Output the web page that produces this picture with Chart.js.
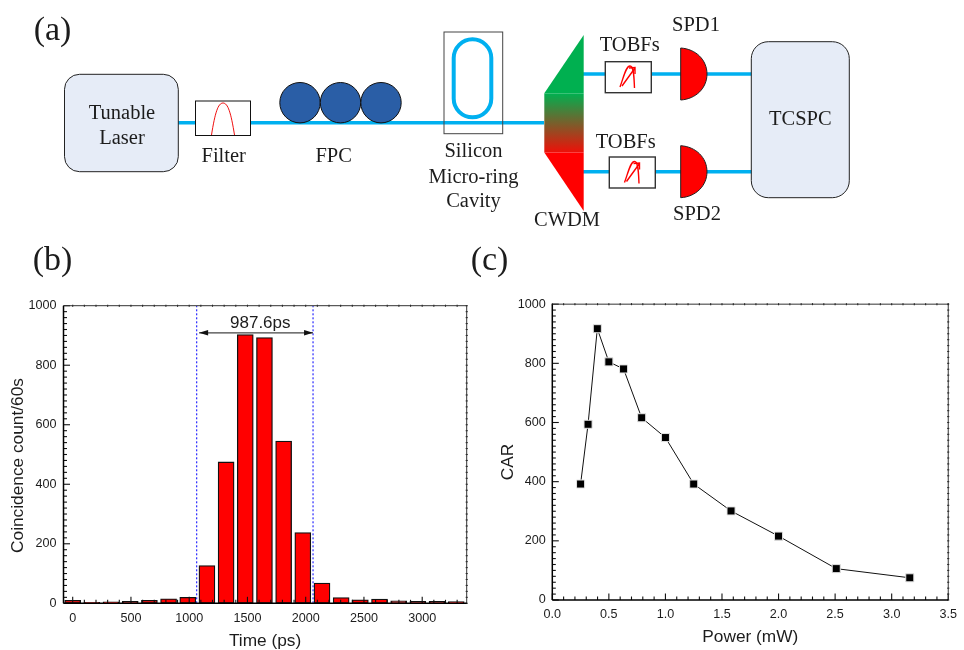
<!DOCTYPE html>
<html>
<head>
<meta charset="utf-8">
<script src="https://cdn.jsdelivr.net/npm/chart.js@4"></script>
<style>
html,body{margin:0;padding:0;background:#fff;width:964px;height:650px;overflow:hidden}
svg,canvas{position:absolute;display:block;filter:blur(0.3px)}
svg text{font-family:"Liberation Serif",serif;fill:#1c1c1c;text-anchor:middle}
</style>
</head>
<body>
<svg id="diagram" width="964" height="290" style="left:0;top:0">
  <defs>
    <linearGradient id="wdm" x1="0" y1="0" x2="0" y2="1">
      <stop offset="0" stop-color="#00b050"/><stop offset="1" stop-color="#ee1008"/>
    </linearGradient>
    <g id="scribble" fill="none" stroke="#ff0000" stroke-width="1.4">
      <path d="M620 87 C624 76 626 66 630 66 C634 66 634 78 634.5 88"/>
      <path d="M622 86 L635 68 M629 68 L635 67.5 L635 74"/>
    </g>
  </defs>
  <g fill="none" stroke="#00b0f0" stroke-width="3.5">
    <path d="M178 122.7H544"/>
    <path d="M582 74H752M582 171.7H752"/>
    <rect x="453.7" y="39.3" width="37.6" height="78" rx="18.8" stroke-width="4"/>
  </g>
  <rect x="64.5" y="74.3" width="113.8" height="97.4" rx="15" fill="#e6ecf7" stroke="#222" stroke-width="1"/>
  <rect x="195.5" y="101" width="55" height="34.5" fill="#fff" stroke="#111" stroke-width="1"/>
  <path d="M211.5 135 C215 113 218 103 223 103 C228 103 231 113 234.5 135" fill="none" stroke="#f01010" stroke-width="1"/>
  <g fill="#2a5ea6" stroke="#111" stroke-width="1">
    <circle cx="300" cy="102.7" r="20.2"/><circle cx="340.5" cy="102.7" r="20.2"/><circle cx="381" cy="102.7" r="20.2"/>
  </g>
  <rect x="444" y="32" width="58.7" height="101.7" fill="none" stroke="#444" stroke-width="1"/>
  <path d="M583.7 35V93.3H544.3Z" fill="#00b050"/>
  <rect x="544.3" y="93.3" width="39.4" height="59.2" fill="url(#wdm)"/>
  <path d="M544.3 152.5H583.7V211Z" fill="#ff0000"/>
  <rect x="605.3" y="61.7" width="46" height="31" fill="#fff" stroke="#333" stroke-width="1.4"/>
  <rect x="609.3" y="157" width="46" height="31" fill="#fff" stroke="#333" stroke-width="1.4"/>
  <use href="#scribble"/>
  <use href="#scribble" transform="translate(4.5 95.5)"/>
  <path d="M680.7 48C696 49 707 60 707 74C707 88 696 99 680.7 100Z" fill="#ff0000" stroke="#222" stroke-width="1"/>
  <path d="M680.7 145.7C696 146.7 707 157.7 707 171.7C707 185.7 696 196.7 680.7 197.7Z" fill="#ff0000" stroke="#222" stroke-width="1"/>
  <rect x="751.3" y="41.7" width="98" height="156" rx="17" fill="#e6ecf7" stroke="#222" stroke-width="1"/>
  <g font-size="20.5">
    <text x="122" y="119">Tunable</text>
    <text x="122" y="144">Laser</text>
    <text x="223.7" y="161.7">Filter</text>
    <text x="333.7" y="161.7">FPC</text>
    <text x="473.5" y="157.3">Silicon</text>
    <text x="473.5" y="182.7">Micro-ring</text>
    <text x="473.5" y="207.3">Cavity</text>
    <text x="567" y="226">CWDM</text>
    <text x="629.7" y="50.7">TOBFs</text>
    <text x="625.7" y="148.3">TOBFs</text>
    <text x="696" y="31">SPD1</text>
    <text x="697" y="220">SPD2</text>
    <text x="800.3" y="125">TCSPC</text>
  </g>
  <text x="52.5" y="40" font-size="34">(a)</text>
  <text x="52.5" y="270" font-size="34">(b)</text>
  <text x="489.5" y="270" font-size="34">(c)</text>
</svg>
<canvas id="timeChart" width="480" height="360" style="left:0;top:290px"></canvas>
<canvas id="carChart" width="474" height="360" style="left:490px;top:290px"></canvas>
<script>
// Panel (b): coincidence histogram
const timePs = [0,164.6,329.2,493.8,658.4,823,987.6,1152.2,1316.8,1481.4,1646,1810.6,1975.2,2139.8,2304.4,2469,2633.6,2798.2,2962.8,3127.4,3292];
const counts = [10,3,5,7,10,15,20,127,475,903,893,545,238,68,19,12,14,8,7,7,6];
const windowEdges = [1064,2063];
const arrowSpan = [1085,2063];
const arrowLevel = 909;
const windowLabel = '987.6ps';
const timeTicks = [0,500,1000,1500,2000,2500,3000];
const timeTickLabels = ['0','500','1000','1500','2000','2500','3000'];
const countTicks = [0,200,400,600,800,1000];
const countTickLabels = ['0','200','400','600','800','1000'];
// Panel (c): CAR against power
const powerMw = [0.25,0.316,0.398,0.5,0.63,0.79,1.0,1.25,1.58,2.0,2.51,3.16];
const carValues = [392,594,917,805,781,616,549,392,301,216,106,75];
const powerTicks = [0,0.5,1,1.5,2,2.5,3,3.5];
const powerTickLabels = ['0.0','0.5','1.0','1.5','2.0','2.5','3.0','3.5'];
const carTicks = [0,200,400,600,800,1000];
const carTickLabels = ['0','200','400','600','800','1000'];

const INK = '#1c1c1c';
const FONT = '"Liberation Sans", Arial, sans-serif';

function frameAndTicks(xStep, xMajor, yStep, yMajor) {
  return {
    id: 'frameAndTicks',
    afterDatasetsDraw(chart) {
      const {ctx, chartArea: a, scales: {x, y}} = chart;
      ctx.save();
      const seg = (x1, y1, x2, y2) => { ctx.beginPath(); ctx.moveTo(x1, y1); ctx.lineTo(x2, y2); ctx.stroke(); };
      ctx.strokeStyle = '#111'; ctx.lineWidth = 1.1;
      for (let v = Math.ceil(x.min / xStep) * xStep; v <= x.max + 1e-9; v += xStep) {
        const p = x.getPixelForValue(v);
        const major = Math.abs(v / xMajor - Math.round(v / xMajor)) < 1e-6;
        seg(p, a.bottom, p, a.bottom - (major ? 6.5 : 3.5));
        seg(p, a.top - 1, p, a.top + 1);
      }
      for (let v = Math.ceil(y.min / yStep) * yStep; v <= y.max + 1e-9; v += yStep) {
        const p = y.getPixelForValue(v);
        const major = Math.abs(v / yMajor - Math.round(v / yMajor)) < 1e-6;
        seg(a.left, p, a.left + (major ? 6.5 : 3.5), p);
        seg(a.right - 1, p, a.right + 1, p);
      }
      ctx.strokeStyle = '#333'; ctx.lineWidth = 1;
      seg(a.left, a.top, a.right, a.top);
      seg(a.right, a.top, a.right, a.bottom);
      ctx.strokeStyle = '#000'; ctx.lineWidth = 1.5;
      seg(a.left, a.top, a.left, a.bottom);
      seg(a.left, a.bottom, a.right, a.bottom);
      ctx.restore();
    }
  };
}
// The axis titles sit below the middle of the axis: move them only while the scale layers are painted.
const shiftTitle = dy => ({
  id: 'shiftTitle',
  beforeDraw(chart) { chart.scales.y.top += dy; chart.scales.y.bottom += dy; },
  beforeDatasetsDraw(chart) { chart.scales.y.top -= dy; chart.scales.y.bottom -= dy; }
});
const spanLabel = {
  id: 'spanLabel',
  afterDatasetsDraw(chart) {
    const {ctx, scales: {x, y}} = chart;
    const x1 = x.getPixelForValue(arrowSpan[0]), x2 = x.getPixelForValue(arrowSpan[1]), py = y.getPixelForValue(arrowLevel);
    ctx.save();
    ctx.strokeStyle = '#444'; ctx.fillStyle = '#111'; ctx.lineWidth = 1.3;
    ctx.beginPath(); ctx.moveTo(x1, py); ctx.lineTo(x2, py); ctx.stroke();
    ctx.beginPath(); ctx.moveTo(x1, py); ctx.lineTo(x1 + 9, py - 2.8); ctx.lineTo(x1 + 9, py + 2.8); ctx.closePath(); ctx.fill();
    ctx.beginPath(); ctx.moveTo(x2, py); ctx.lineTo(x2 - 9, py - 2.8); ctx.lineTo(x2 - 9, py + 2.8); ctx.closePath(); ctx.fill();
    ctx.font = '17px ' + FONT; ctx.fillStyle = INK; ctx.textAlign = 'center'; ctx.textBaseline = 'alphabetic';
    ctx.fillText(windowLabel, x.getPixelForValue(1610), py - 5);
    ctx.restore();
  }
};
const axis = (cfg) => ({
  type: 'linear', min: cfg.min, max: cfg.max, offset: false,
  grid: {display: false, drawTicks: false, tickLength: 0, offset: false}, border: {display: false},
  afterBuildTicks: s => { s.ticks = cfg.ticks.map(v => ({value: v})); },
  afterTickToLabelConversion: s => { s.ticks.forEach((t, i) => { t.label = cfg.labels[i]; }); },
  afterFit: s => { if (cfg.width) s.width = cfg.width; if (cfg.height) s.height = cfg.height; },
  ticks: {autoSkip: false, maxRotation: 0, minRotation: 0, padding: cfg.pad, color: INK, font: {family: FONT, size: 12.6}},
  title: {display: true, text: cfg.title, color: INK, padding: cfg.titlePad, font: {family: FONT, size: 17.3, lineHeight: 1}}
});

new Chart(document.getElementById('timeChart'), {
  type: 'bar',
  data: {datasets: [
    {type: 'bar', data: timePs.map((t, i) => ({x: t, y: counts[i]})), backgroundColor: '#ff0000', borderColor: '#111', borderWidth: 1.3, borderSkipped: false, barThickness: 16},
    {type: 'line', data: windowEdges.slice(0, 1).flatMap(v => [{x: v, y: 0}, {x: v, y: 1000}]), borderColor: '#2a2aff', borderWidth: 1.2, borderDash: [2, 2], pointRadius: 0},
    {type: 'line', data: windowEdges.slice(1).flatMap(v => [{x: v, y: 0}, {x: v, y: 1000}]), borderColor: '#2a2aff', borderWidth: 1.2, borderDash: [2, 2], pointRadius: 0}
  ]},
  options: {
    responsive: false, animation: false, events: [],
    layout: {padding: {top: 15.7, right: 13.3, left: 0, bottom: 0}},
    plugins: {legend: {display: false}, tooltip: {enabled: false}},
    scales: {
      x: axis({min: -79, max: 3382, ticks: timeTicks, labels: timeTickLabels, pad: 8, height: 46.7, title: 'Time (ps)', titlePad: {top: 0, bottom: 0}}),
      y: axis({min: 0, max: 1000, ticks: countTicks, labels: countTickLabels, pad: 7, width: 63.5, title: 'Coincidence count/60s', titlePad: {top: 9.5, bottom: 0}})
    }
  },
  plugins: [shiftTitle(11), frameAndTicks(100, 500, 20, 200), spanLabel]
});

new Chart(document.getElementById('carChart'), {
  type: 'line',
  data: {datasets: [{
    data: powerMw.map((p, i) => ({x: p, y: carValues[i]})),
    borderColor: '#111', borderWidth: 1, tension: 0,
    pointStyle: 'rect', pointRadius: 5.7, pointBackgroundColor: '#000', pointBorderColor: '#e4e4e4', pointBorderWidth: 1
  }]},
  options: {
    responsive: false, animation: false, events: [],
    layout: {padding: {top: 14, right: 10.7, left: 0, bottom: 0}},
    plugins: {legend: {display: false}, tooltip: {enabled: false}},
    scales: {
      x: axis({min: 0, max: 3.5, ticks: powerTicks, labels: powerTickLabels, pad: 7, height: 50, title: 'Power (mW)', titlePad: {top: 0, bottom: 3.8}}),
      y: axis({min: 0, max: 1000, ticks: carTicks, labels: carTickLabels, pad: 6.6, width: 62.3, title: 'CAR', titlePad: {top: 9.4, bottom: 0}})
    }
  },
  plugins: [shiftTitle(10), frameAndTicks(0.1, 0.5, 20, 200)]
});
</script>
</body>
</html>
